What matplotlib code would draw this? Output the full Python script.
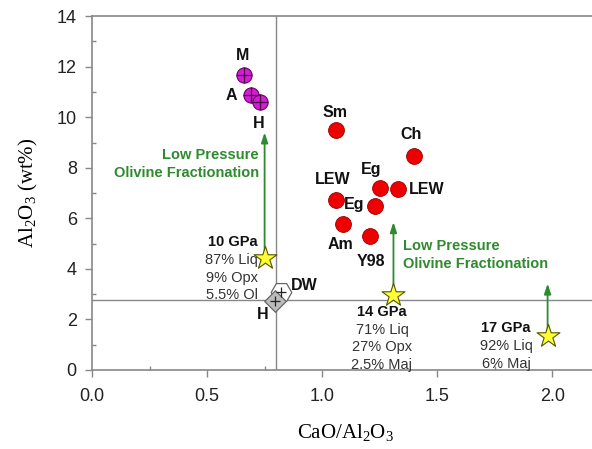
import matplotlib.pyplot as plt
import numpy as np
from matplotlib.ticker import MultipleLocator

# magenta group (M, A, H)
mag_names = ["M", "A", "H"]
mag_x = [0.66, 0.69, 0.73]
mag_y = [11.66, 10.9, 10.6]

# red group
red_names = ["Sm", "Ch", "Eg", "LEW", "LEW", "Eg", "Am", "Y98"]
red_x = [1.06, 1.40, 1.25, 1.33, 1.06, 1.23, 1.09, 1.21]
red_y = [9.49, 8.46, 7.19, 7.15, 6.72, 6.48, 5.77, 5.30]

# DW and H (lower)
dw_x, dw_y = 0.82, 3.1
hl_x, hl_y = 0.795, 2.72

# experimental liquids (stars)
star_x = [0.75, 1.31, 1.98]
star_y = [4.43, 2.96, 1.34]
star_titles = ["10 GPa", "14 GPa", "17 GPa"]
star_phases = [["87% Liq", "9% Opx", "5.5% Ol"],
               ["71% Liq", "27% Opx", "2.5% Maj"],
               ["92% Liq", "6% Maj"]]
arrow_top = [9.4, 5.85, 3.42]

ref_x = 0.80
ref_y = 2.75

sans = "Liberation Sans"
serif = "Liberation Serif"
gray = "#888888"
plt.rcParams["mathtext.fontset"] = "custom"
plt.rcParams["mathtext.rm"] = serif
plt.rcParams["mathtext.it"] = serif

fig = plt.figure(figsize=(5.92, 4.49), dpi=100)
ax = fig.add_axes([0.1555, 0.176, 0.855, 0.788])
ax.set_xlim(0, 2.2)
ax.set_ylim(0, 14)

for s in ax.spines.values():
    s.set_color(gray)
    s.set_linewidth(1.2)
ax.spines["right"].set_visible(False)

ax.xaxis.set_major_locator(MultipleLocator(0.5))
ax.xaxis.set_minor_locator(MultipleLocator(0.25))
ax.yaxis.set_major_locator(MultipleLocator(2))
ax.yaxis.set_minor_locator(MultipleLocator(1))
ax.xaxis.set_major_formatter(lambda v, p: f"{v:.1f}")
ax.tick_params(which="major", direction="out", length=5, color=gray, width=1)
ax.tick_params(which="minor", direction="in", length=3, color=gray, width=1)
ax.tick_params(axis="x", which="major", pad=8)
ax.tick_params(axis="y", which="major", pad=6)
for lab in ax.get_xticklabels() + ax.get_yticklabels():
    lab.set_fontfamily(sans)
    lab.set_fontsize(13)
    lab.set_color("#222222")

ax.set_xlabel("CaO/Al$_2$O$_3$", fontfamily=serif, fontsize=15, labelpad=12)
ax.set_ylabel("Al$_2$O$_3$ (wt%)", fontfamily=serif, fontsize=15, labelpad=12)

# reference lines
ax.axvline(ref_x, color=gray, lw=1, zorder=1)
ax.axhline(ref_y, color=gray, lw=1, zorder=1)

# green arrows
green = "#2e8b2e"
for x0, y0, yt in zip(star_x, star_y, arrow_top):
    ax.annotate("", xy=(x0, yt), xytext=(x0, y0),
                arrowprops=dict(arrowstyle="-|>,head_length=0.6,head_width=0.2",
                                color=green, lw=1.3, shrinkA=0, shrinkB=0),
                zorder=2)

# points
ax.scatter(mag_x, mag_y, s=120, color="#d11fd1", edgecolor="#6a006a", lw=0.8, zorder=4)
ax.scatter(mag_x, mag_y, s=120, marker="+", color="#4a004a", lw=0.9, zorder=5)
ax.scatter(red_x, red_y, s=130, color="#ee0000", edgecolor="#990000", lw=0.6, zorder=4)
ax.scatter([dw_x], [dw_y], s=220, marker="H", color="white", edgecolor="#666666", lw=0.9, zorder=4)
ax.scatter([hl_x], [hl_y], s=120, marker="D", color="#bbbbbb", edgecolor="#666666", lw=0.9, zorder=5)
ax.scatter([dw_x, hl_x], [dw_y, hl_y], s=60, marker="+", color="#222222", lw=0.9, zorder=6)
ax.scatter(star_x, star_y, s=300, marker="*", color="#ffff33", edgecolor="#555500", lw=0.8, zorder=6)

bold = dict(fontfamily=sans, fontsize=11.5, fontweight="bold", color="#111111")

# labels for points
mag_lab = [(0.655, 12.45, "center"), (0.63, 10.85, "right"), (0.725, 9.75, "center")]
for (lx, ly, ha), n in zip(mag_lab, mag_names):
    ax.text(lx, ly, n, ha=ha, va="center", **bold)
red_lab = [(1.055, 10.2, "center"), (1.385, 9.3, "center"), (1.215, 7.95, "center"),
           (1.375, 7.15, "left"), (1.045, 7.55, "center"), (1.14, 6.53, "center"),
           (1.08, 4.98, "center"), (1.21, 4.3, "center")]
for (lx, ly, ha), n in zip(red_lab, red_names):
    ax.text(lx, ly, n, ha=ha, va="center", **bold)
ax.text(0.865, 3.35, "DW", ha="left", va="center", **bold)
ax.text(0.74, 2.2, "H", ha="center", va="center", **bold)

# green annotation text
gtxt = dict(fontfamily=sans, fontsize=10.5, fontweight="bold", color=green,
            linespacing=1.35)
ax.text(0.725, 8.15, "Low Pressure\nOlivine Fractionation", ha="right", va="center", **gtxt)
ax.text(1.35, 4.55, "Low Pressure\nOlivine Fractionation", ha="left", va="center", **gtxt)

# experiment labels
exp_pos = [(0.72, 5.05, "right"), (1.26, 2.3, "center"), (1.8, 1.65, "center")]
for (lx, ly, ha), t, ph in zip(exp_pos, star_titles, star_phases):
    ax.text(lx, ly, t, ha=ha, va="center", fontfamily=sans, fontsize=10.5,
            fontweight="bold", color="#111111")
    for i, p in enumerate(ph):
        ax.text(lx, ly - 0.7 * (i + 1), p, ha=ha, va="center", fontfamily=sans,
                fontsize=10.5, color="#333333")

fig.savefig("out.png", dpi=100)
